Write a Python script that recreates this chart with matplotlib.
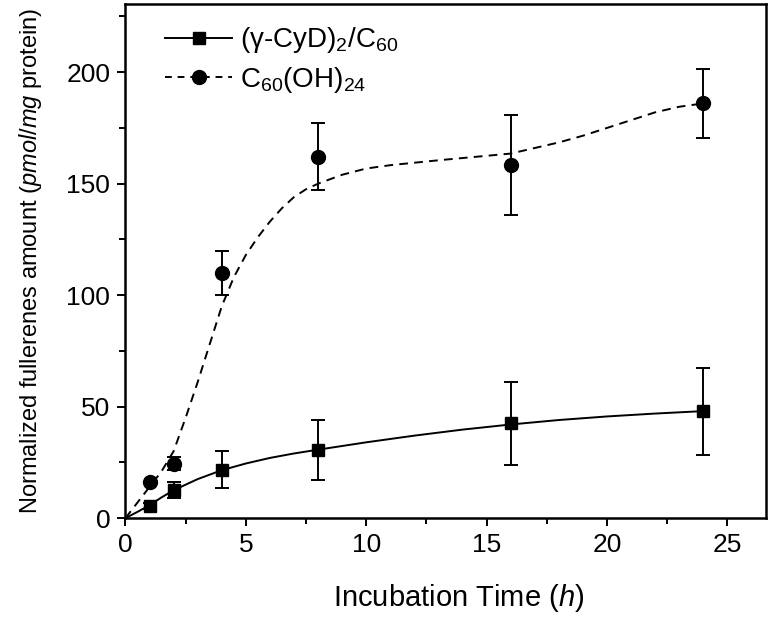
import matplotlib
matplotlib.use("Agg")
import matplotlib.pyplot as plt
from matplotlib.ticker import MultipleLocator

plt.rcParams['font.family'] = ['Liberation Sans', 'DejaVu Sans']
plt.rcParams['mathtext.fontset'] = 'custom'
plt.rcParams['mathtext.rm'] = 'Liberation Sans'
plt.rcParams['mathtext.it'] = 'Liberation Sans:italic'

# measured data
time_h = [1, 2, 4, 8, 16, 24]
cyd_vals = [5.5, 12.7, 21.7, 30.5, 42.5, 48.0]
cyd_err = [1.5, 3.5, 8.3, 13.3, 18.5, 19.5]
oh_vals = [16.0, 24.5, 110.0, 162.0, 158.3, 186.0]
oh_err = [0.0, 3.0, 10.0, 15.0, 22.3, 15.5]

# fitted curves
fit_cyd_x = [0, 0.5, 1, 1.5, 2, 3, 4, 5, 6, 7, 8, 10, 12, 14, 16, 18, 20, 22, 24]
fit_cyd_y = [0, 2.8, 5.8, 9.3, 12.5, 17.5, 21.5, 24.5, 27, 29, 30.7, 34, 37, 39.7, 42, 44, 45.6, 46.9, 48]
fit_oh_x = [0, 0.5, 1, 1.5, 2, 2.5, 3, 3.5, 4, 4.5, 5, 5.5, 6, 6.5, 7, 7.5, 8, 9, 10, 11, 12,
            13, 14, 15, 16, 17, 18, 19, 20, 21, 22, 23, 24]
fit_oh_y = [0, 7, 14, 21, 30, 45, 61, 78, 95, 108, 118, 126, 133, 139, 144, 147.5, 150, 154, 156.8,
            158.3, 159.4, 160.5, 161.5, 162.5, 163.5, 166, 168.5, 171.5, 175, 178.5, 182, 184.5, 186]

label_cyd = '(γ-CyD)$_2$/C$_{60}$'
label_oh = 'C$_{60}$(OH)$_{24}$'

fig = plt.figure(figsize=(7.72, 6.22), dpi=100)
ax = fig.add_axes([0.1625, 0.167, 0.8295, 0.8266])

ax.plot(fit_cyd_x, fit_cyd_y, '-', color='black', lw=1.4)
ax.plot(fit_oh_x, fit_oh_y, '--', color='black', lw=1.4, dashes=(4.5, 3.2))

ax.errorbar(time_h, cyd_vals, yerr=cyd_err, fmt='s', color='black', ms=8,
            capsize=5, elinewidth=1.4, capthick=1.4)
ax.errorbar(time_h, oh_vals, yerr=oh_err, fmt='o', color='black', ms=10,
            capsize=5, elinewidth=1.4, capthick=1.4)

# legend proxies
h1, = ax.plot([], [], '-s', color='black', lw=1.4, ms=8, label=label_cyd)
h2, = ax.plot([], [], '--o', color='black', lw=1.4, ms=10, dashes=(3.5, 3.0), label=label_oh)
ax.legend(handles=[h1, h2], loc='upper left', bbox_to_anchor=(0.045, 0.98), frameon=False,
          fontsize=20, handlelength=2.4, handletextpad=0.3, labelspacing=0.35,
          borderaxespad=0.0)

ax.set_xlim(0, 26.6)
ax.set_ylim(0, 230.6)
ax.xaxis.set_major_locator(MultipleLocator(5))
ax.xaxis.set_minor_locator(MultipleLocator(2.5))
ax.yaxis.set_major_locator(MultipleLocator(50))
ax.yaxis.set_minor_locator(MultipleLocator(25))
ax.tick_params(which='both', direction='out', top=False, right=False, width=1.4,
               labelsize=19)
ax.tick_params(which='major', length=6, pad=5)
ax.tick_params(which='minor', length=4)
for s in ax.spines.values():
    s.set_linewidth(1.8)

ax.set_xlabel('Incubation Time ($\\mathit{h}$)', fontsize=21, labelpad=19)
ax.xaxis.set_label_coords(0.52, -0.125)
ax.set_ylabel('Normalized fullerenes amount ($\\mathit{pmol}$/$\\mathit{mg}$ protein)',
              fontsize=17, labelpad=16)

fig.savefig('out.png', dpi=100)
